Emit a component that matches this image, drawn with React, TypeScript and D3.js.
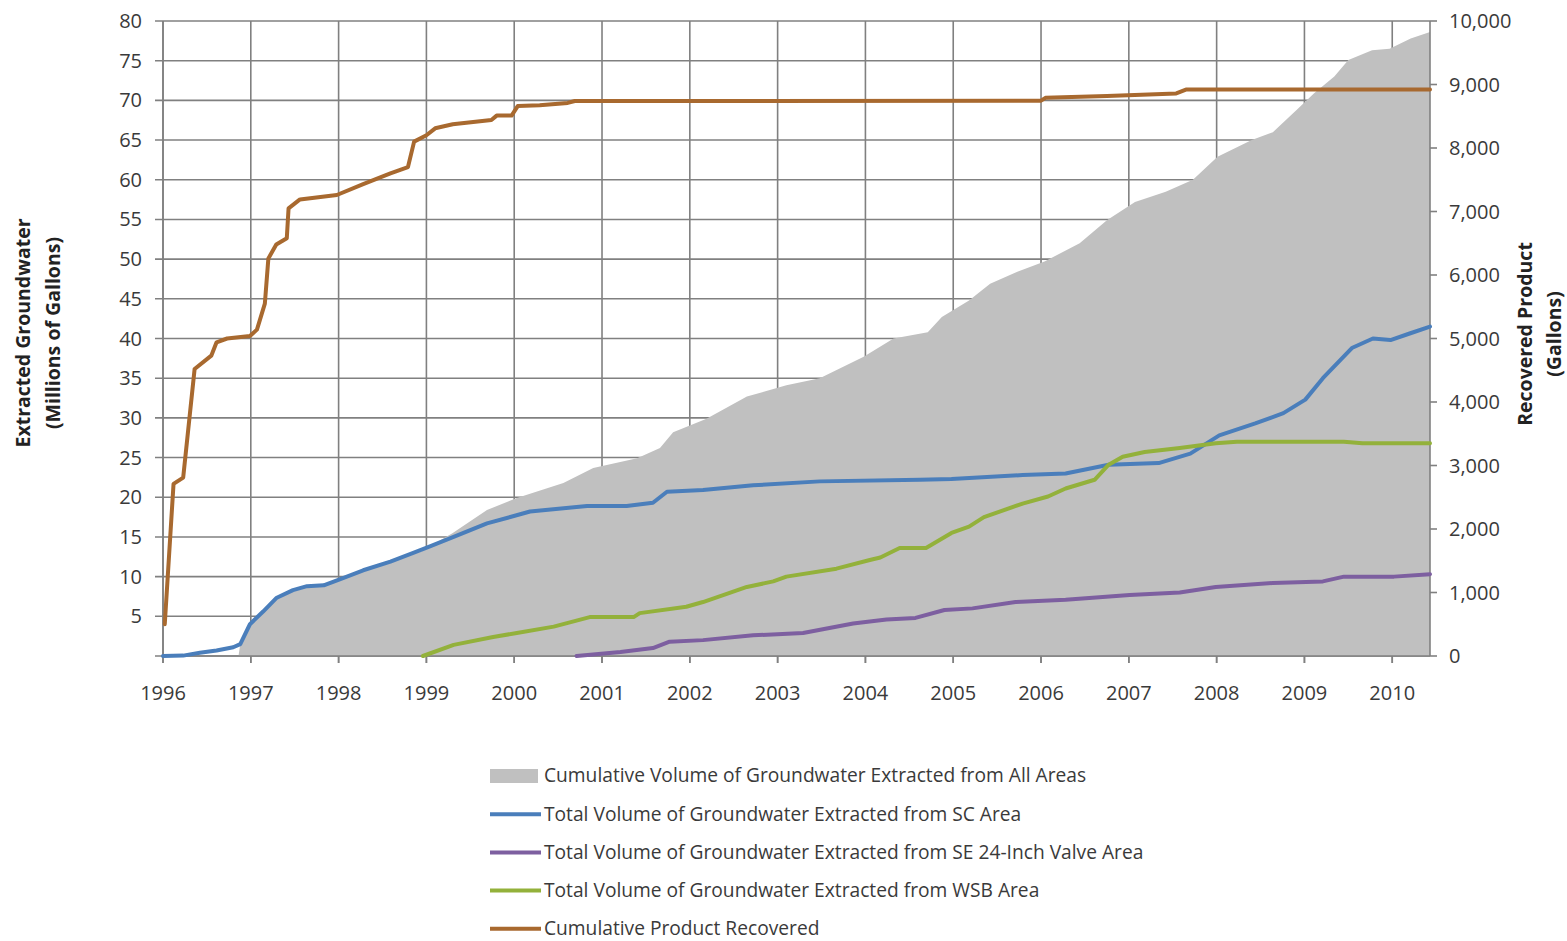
import React from "react";
import * as d3 from "d3";

// Decimal-year series read as [time, value]
const allAreasTotal: [number, number][] = [
  [1996.86, 0], [1996.88, 1.5], [1996.99, 4.0], [1997.14, 5.6], [1997.29, 7.3], [1997.48, 8.3],
  [1997.64, 8.8], [1997.83, 8.9], [1998.02, 9.7], [1998.28, 10.8], [1998.59, 11.9],
  [1998.85, 13.0], [1998.93, 13.1], [1999.3, 15.5], [1999.69, 18.4], [2000.03, 19.9],
  [2000.56, 21.8], [2000.9, 23.7], [2001.4, 24.9], [2001.66, 26.2], [2001.81, 28.2],
  [2002.19, 29.9], [2002.65, 32.7], [2003.1, 34.1], [2003.48, 35.0], [2003.98, 37.7],
  [2004.32, 40.0], [2004.71, 40.8], [2004.87, 42.7], [2005.18, 44.8], [2005.42, 46.9],
  [2005.73, 48.4], [2006.04, 49.7], [2006.44, 52.0], [2006.75, 54.9], [2007.07, 57.2],
  [2007.42, 58.5], [2007.73, 60.0], [2008.01, 62.9], [2008.4, 65.0], [2008.64, 66.0],
  [2008.91, 68.8], [2009.11, 70.9], [2009.34, 73.0], [2009.5, 75.1], [2009.77, 76.3],
  [2009.97, 76.5], [2010.21, 77.8], [2010.43, 78.6],
];

const scArea: [number, number][] = [
  [1996.0, 0.0], [1996.23, 0.05], [1996.42, 0.4], [1996.61, 0.7], [1996.8, 1.1],
  [1996.88, 1.5], [1996.99, 4.0], [1997.14, 5.6], [1997.29, 7.3], [1997.48, 8.3],
  [1997.64, 8.8], [1997.83, 8.9], [1998.02, 9.7], [1998.28, 10.8], [1998.59, 11.9],
  [1998.85, 13.0], [1999.04, 13.8], [1999.31, 15.0], [1999.69, 16.7], [2000.18, 18.2],
  [2000.83, 18.9], [2001.28, 18.9], [2001.58, 19.3], [2001.74, 20.7], [2002.15, 20.9],
  [2002.72, 21.5], [2003.48, 22.0], [2004.62, 22.2], [2004.98, 22.3], [2005.79, 22.8],
  [2006.28, 23.0], [2006.77, 24.1], [2007.34, 24.3], [2007.7, 25.5], [2008.03, 27.8],
  [2008.44, 29.3], [2008.76, 30.6], [2009.01, 32.3], [2009.21, 35.0], [2009.54, 38.8],
  [2009.78, 40.0], [2009.98, 39.8], [2010.19, 40.6], [2010.43, 41.5],
];

const seValveArea: [number, number][] = [
  [2000.71, 0], [2001.21, 0.5], [2001.58, 1.0], [2001.77, 1.8], [2002.15, 2.0],
  [2002.72, 2.6], [2003.29, 2.9], [2003.86, 4.1], [2004.24, 4.6], [2004.57, 4.8],
  [2004.9, 5.8], [2005.22, 6.0], [2005.71, 6.8], [2006.28, 7.1], [2007.01, 7.7],
  [2007.58, 8.0], [2007.99, 8.7], [2008.64, 9.2], [2009.21, 9.4], [2009.45, 10.0],
  [2010.02, 10.0], [2010.43, 10.3],
];

const wsbArea: [number, number][] = [
  [1998.96, 0], [1999.31, 1.4], [1999.76, 2.4], [2000.03, 2.9], [2000.45, 3.7],
  [2000.86, 4.9], [2001.36, 4.9], [2001.43, 5.4], [2001.96, 6.2], [2002.15, 6.8],
  [2002.65, 8.7], [2002.95, 9.4], [2003.1, 10.0], [2003.67, 11.0], [2004.05, 12.1],
  [2004.17, 12.4], [2004.39, 13.6], [2004.69, 13.6], [2004.98, 15.5], [2005.18, 16.3],
  [2005.35, 17.5], [2005.79, 19.2], [2006.08, 20.1], [2006.28, 21.1], [2006.61, 22.2],
  [2006.77, 24.1], [2006.93, 25.1], [2007.18, 25.7], [2007.58, 26.2], [2007.99, 26.8],
  [2008.23, 27.0], [2009.45, 27.0], [2009.66, 26.8], [2010.43, 26.8],
];

// Gallons recovered (right axis)
const productRecovered: [number, number][] = [
  [1996.02, 500], [1996.12, 2710], [1996.23, 2810], [1996.36, 4520], [1996.55, 4730],
  [1996.61, 4940], [1996.73, 5000], [1996.99, 5040], [1997.07, 5140], [1997.16, 5550],
  [1997.2, 6260], [1997.29, 6480], [1997.41, 6580], [1997.43, 7050], [1997.56, 7190],
  [1997.98, 7260], [1998.28, 7430], [1998.59, 7600], [1998.79, 7700], [1998.86, 8100],
  [1999.0, 8200], [1999.1, 8310], [1999.3, 8375], [1999.74, 8440], [1999.8, 8510],
  [1999.97, 8510], [2000.04, 8660], [2000.29, 8675], [2000.61, 8710], [2000.69, 8740],
  [2006.0, 8745], [2006.05, 8790], [2006.75, 8820], [2007.54, 8860], [2007.65, 8920],
  [2010.43, 8920],
];

const yearTicks = d3.range(1996, 2011);
const leftTicks = d3.range(5, 85, 5);
const rightTicks = d3.range(0, 11000, 1000);

const legendItems = [
  { label: "Cumulative Volume of Groundwater Extracted from All Areas", color: "#c0c0c0", kind: "area" },
  { label: "Total Volume of Groundwater Extracted from SC Area", color: "#4a7ebb", kind: "line" },
  { label: "Total Volume of Groundwater Extracted from SE 24-Inch Valve Area", color: "#7d5fa0", kind: "line" },
  { label: "Total Volume of Groundwater Extracted from WSB Area", color: "#93b13b", kind: "line" },
  { label: "Cumulative Product Recovered", color: "#a8692f", kind: "line" },
];

const W = 1567;
const H = 941;
const plot = { left: 163, right: 1430, top: 21, bottom: 656 };
const font = "'Open Sans', 'Liberation Sans', sans-serif";

export default function App() {
  const x = d3.scaleLinear().domain([1996, 2010.43]).range([plot.left, plot.right]);
  const yL = d3.scaleLinear().domain([0, 80]).range([plot.bottom, plot.top]);
  const yR = d3.scaleLinear().domain([0, 10000]).range([plot.bottom, plot.top]);

  const areaGen = d3
    .area<[number, number]>()
    .x((d) => x(d[0]))
    .y0(yL(0))
    .y1((d) => yL(d[1]));
  const lineL = d3
    .line<[number, number]>()
    .x((d) => x(d[0]))
    .y((d) => yL(d[1]));
  const lineR = d3
    .line<[number, number]>()
    .x((d) => x(d[0]))
    .y((d) => yR(d[1]));

  const grid = "#808080";
  const textColor = "#3a3a3a";

  return (
    <svg
      width={W}
      height={H}
      style={{ position: "absolute", left: 0, top: 0, background: "#fff" }}
      fontFamily={font}
    >
      {/* grid */}
      <g stroke={grid} strokeWidth={1.6}>
        {d3.range(0, 85, 5).map((v) => (
          <line key={"h" + v} x1={plot.left - 8} x2={plot.right} y1={yL(v)} y2={yL(v)} />
        ))}
        {yearTicks.map((yr) => (
          <line key={"v" + yr} x1={x(yr)} x2={x(yr)} y1={plot.top} y2={plot.bottom + 7} />
        ))}
      </g>

      {/* cumulative volume area */}
      <path d={areaGen(allAreasTotal) ?? ""} fill="#c0c0c0" />

      {/* axis lines and tick marks over the area */}
      <g stroke={grid} strokeWidth={1.6}>
        {yearTicks.map((yr) => (
          <line key={"t" + yr} x1={x(yr)} x2={x(yr)} y1={plot.bottom} y2={plot.bottom + 7} />
        ))}
        <line x1={plot.left} x2={plot.right} y1={plot.bottom} y2={plot.bottom} />
        <line x1={plot.left} x2={plot.left} y1={plot.top} y2={plot.bottom} />
        <line x1={plot.right} x2={plot.right} y1={plot.top} y2={plot.bottom} />
        {rightTicks.map((v) => (
          <line key={"r" + v} x1={plot.right} x2={plot.right + 7} y1={yR(v)} y2={yR(v)} />
        ))}
      </g>

      {/* series lines */}
      <g fill="none" strokeLinejoin="round" strokeLinecap="round" strokeWidth={4}>
        <path d={lineL(scArea) ?? ""} stroke="#4a7ebb" />
        <path d={lineL(seValveArea) ?? ""} stroke="#7d5fa0" />
        <path d={lineL(wsbArea) ?? ""} stroke="#93b13b" />
        <path d={lineR(productRecovered) ?? ""} stroke="#a8692f" />
      </g>

      {/* left axis labels */}
      <g fontSize={20} fill={textColor} textAnchor="end">
        {leftTicks.map((v) => (
          <text key={"l" + v} x={142} y={yL(v)} dy="0.35em">
            {v}
          </text>
        ))}
      </g>

      {/* right axis labels */}
      <g fontSize={20} fill={textColor} textAnchor="start">
        {rightTicks.map((v) => (
          <text key={"rl" + v} x={1449} y={yR(v)} dy="0.35em">
            {d3.format(",")(v)}
          </text>
        ))}
      </g>

      {/* x axis labels */}
      <g fontSize={20} fill={textColor} textAnchor="middle">
        {yearTicks.map((yr) => (
          <text key={"x" + yr} x={x(yr)} y={700}>
            {yr}
          </text>
        ))}
      </g>

      {/* axis titles */}
      <g fontSize={19.5} fontWeight="bold" fill="#222" textAnchor="middle">
        <text transform="translate(30,333) rotate(-90)">Extracted Groundwater</text>
        <text transform="translate(60,333) rotate(-90)">(Millions of Gallons)</text>
        <text transform="translate(1532,334) rotate(-90)">Recovered Product</text>
        <text transform="translate(1561,334) rotate(-90)">(Gallons)</text>
      </g>

      {/* legend */}
      <g fontSize={19.2} fill={textColor}>
        {legendItems.map((item, i) => {
          const cy = 776 + i * 38.2;
          return (
            <g key={item.label}>
              {item.kind === "area" ? (
                <rect x={490} y={cy - 7} width={48} height={14} fill={item.color} />
              ) : (
                <line x1={490} x2={541} y1={cy} y2={cy} stroke={item.color} strokeWidth={4} />
              )}
              <text x={544} y={cy} dy="0.33em">
                {item.label}
              </text>
            </g>
          );
        })}
      </g>
    </svg>
  );
}
